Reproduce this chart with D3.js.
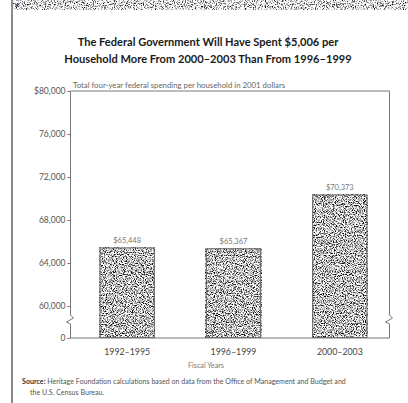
<!DOCTYPE html>
<html>
<head>
<meta charset="utf-8">
<script src="https://cdn.jsdelivr.net/npm/d3@7"></script>
<style>
  html, body { margin: 0; padding: 0; background: #fff; }
  svg { display: block; }
  text { font-family: Lato, "Open Sans", sans-serif; }
</style>
</head>
<body>
<script>
// Four-year federal spending per household (2001 dollars)
const periods = ["1992–1995", "1996–1999", "2000–2003"];
const spending = [65448, 65367, 70373];
const yTicks = [0, 60000, 64000, 68000, 72000, 76000, 80000];
const yTickLabels = ["0", "60,000", "64,000", "68,000", "72,000", "76,000", "$80,000"];
const titleLines = [
  "The Federal Government Will Have Spent $5,006 per",
  "Household More From 2000–2003 Than From 1996–1999"
];
const subtitle = "Total four-year federal spending per household in 2001 dollars";
const xTitle = "Fiscal Years";
const sourceLines = [
  "Heritage Foundation calculations based on data from the Office of Management and Budget and",
  "the U.S. Census Bureau."
];

const W = 408, H = 403;
const frame = { left: 70.5, right: 389.5, top: 91, bottom: 338 };

const svg = d3.select("body").append("svg").attr("width", W).attr("height", H);
const defs = svg.append("defs");

// speckled grain used for the bar fill
const grain = defs.append("filter").attr("id", "grain")
  .attr("x", 0).attr("y", 0).attr("width", 1).attr("height", 1)
  .attr("color-interpolation-filters", "sRGB");
grain.append("feTurbulence").attr("type", "fractalNoise")
  .attr("baseFrequency", 0.9).attr("numOctaves", 2).attr("seed", 7).attr("result", "n");
grain.append("feColorMatrix").attr("in", "n").attr("type", "matrix")
  .attr("values", "1 0 0 0 0  1 0 0 0 0  1 0 0 0 0  0 0 0 0 1").attr("result", "g");
grain.append("feComponentTransfer").attr("in", "g")
  .call(s => ["R", "G", "B"].forEach(c =>
    s.append("feFunc" + c).attr("type", "linear").attr("slope", 3.2).attr("intercept", -0.85)));

// fainter grain for the top banner strip
const haze = defs.append("filter").attr("id", "haze")
  .attr("x", 0).attr("y", 0).attr("width", 1).attr("height", 1)
  .attr("color-interpolation-filters", "sRGB");
haze.append("feTurbulence").attr("type", "fractalNoise")
  .attr("baseFrequency", 0.9).attr("numOctaves", 2).attr("seed", 3).attr("result", "n");
haze.append("feColorMatrix").attr("in", "n").attr("type", "matrix")
  .attr("values", "1 0 0 0 0  1 0 0 0 0  1 0 0 0 0  0 0 0 0 1").attr("result", "g");
haze.append("feComponentTransfer").attr("in", "g")
  .call(s => ["R", "G", "B"].forEach(c =>
    s.append("feFunc" + c).attr("type", "linear").attr("slope", 3.0).attr("intercept", -0.6)));

// page chrome: grainy banner and left rule
svg.append("rect").attr("x", 12).attr("y", 0).attr("width", W - 12).attr("height", 10)
  .attr("fill", "#fff").attr("filter", "url(#haze)");
svg.append("rect").attr("x", 11).attr("y", 0).attr("width", 2).attr("height", H).attr("fill", "#8a8a8a");
svg.append("text").attr("x", 15).attr("y", 8).attr("font-size", 8).attr("font-weight", 700)
  .attr("fill", "#333").text("×");

// title
svg.append("g").selectAll("text").data(titleLines).join("text")
  .attr("x", 208).attr("y", (d, i) => 46 + i * 17)
  .attr("text-anchor", "middle").attr("font-size", 11.1).attr("font-weight", 700)
  .attr("fill", "#1a1a1a").text(d => d);

// scales: broken value axis (0 jumps to 60,000)
const y = d3.scaleLinear().domain([0, 60000, 80000]).range([frame.bottom, 306, frame.top]);
const x = d3.scaleBand().domain(periods).range([74, 393]).paddingInner(0.48).paddingOuter(0.24);

// subtitle
svg.append("text").attr("x", 73).attr("y", 88).attr("font-size", 7.8).attr("fill", "#666").text(subtitle);

// bars
const bars = svg.append("g");
bars.selectAll("rect.fill").data(spending).join("rect").attr("class", "fill")
  .attr("x", (d, i) => x(periods[i])).attr("width", x.bandwidth())
  .attr("y", d => y(d)).attr("height", d => y(0) - y(d))
  .attr("fill", "#fff").attr("filter", "url(#grain)");
bars.selectAll("rect.edge").data(spending).join("rect").attr("class", "edge")
  .attr("x", (d, i) => x(periods[i]) + 0.5).attr("width", x.bandwidth() - 1)
  .attr("y", d => y(d) + 0.5).attr("height", d => y(0) - y(d) - 1)
  .attr("fill", "none").attr("stroke", "#666").attr("stroke-width", 1);

// value labels
svg.append("g").selectAll("text").data(spending).join("text")
  .attr("x", (d, i) => x(periods[i]) + x.bandwidth() / 2).attr("y", d => y(d) - 4)
  .attr("text-anchor", "middle").attr("font-size", 7.5).attr("fill", "#777")
  .text(d => "$" + d3.format(",")(d));

// plot frame with axis breaks on both sides
svg.append("path")
  .attr("d", `M${frame.left},${frame.bottom} L${frame.left},324 L${frame.left - 4},322 L${frame.left + 3},318 ` +
    `L${frame.left},315 L${frame.left},${frame.top} L${frame.right},${frame.top} ` +
    `L${frame.right},315 L${frame.right + 3},318 L${frame.right - 4},322 L${frame.right},324 L${frame.right},${frame.bottom} Z`)
  .attr("fill", "none").attr("stroke", "#777").attr("stroke-width", 1);

// y axis ticks and labels
const yAxis = svg.append("g").attr("transform", `translate(${frame.left},0)`)
  .call(d3.axisLeft(y).tickValues(yTicks).tickSize(3).tickPadding(2)
    .tickFormat((d, i) => yTickLabels[i]));
yAxis.select(".domain").remove();
yAxis.selectAll(".tick line").attr("stroke", "#777");
yAxis.selectAll(".tick text").attr("font-size", 8.5).attr("fill", "#555")
  .attr("font-family", "Lato, 'Open Sans', sans-serif");

// x axis labels
const xAxis = svg.append("g").attr("transform", `translate(0,${frame.bottom})`)
  .call(d3.axisBottom(x).tickSize(0).tickPadding(11));
xAxis.select(".domain").remove();
xAxis.selectAll(".tick text").attr("font-size", 8.8).attr("fill", "#444")
  .attr("font-family", "Lato, 'Open Sans', sans-serif");
svg.append("text").attr("x", 206).attr("y", 368).attr("text-anchor", "middle")
  .attr("font-size", 7.2).attr("fill", "#777").text(xTitle);

// source note
const src = svg.append("text").attr("x", 22).attr("y", 384).attr("font-size", 7.1).attr("fill", "#555");
src.append("tspan").attr("font-weight", 700).attr("fill", "#333").text("Source: ");
src.append("tspan").text(sourceLines[0]);
svg.append("text").attr("x", 30).attr("y", 395).attr("font-size", 7.1).attr("fill", "#555").text(sourceLines[1]);
</script>
</body>
</html>
